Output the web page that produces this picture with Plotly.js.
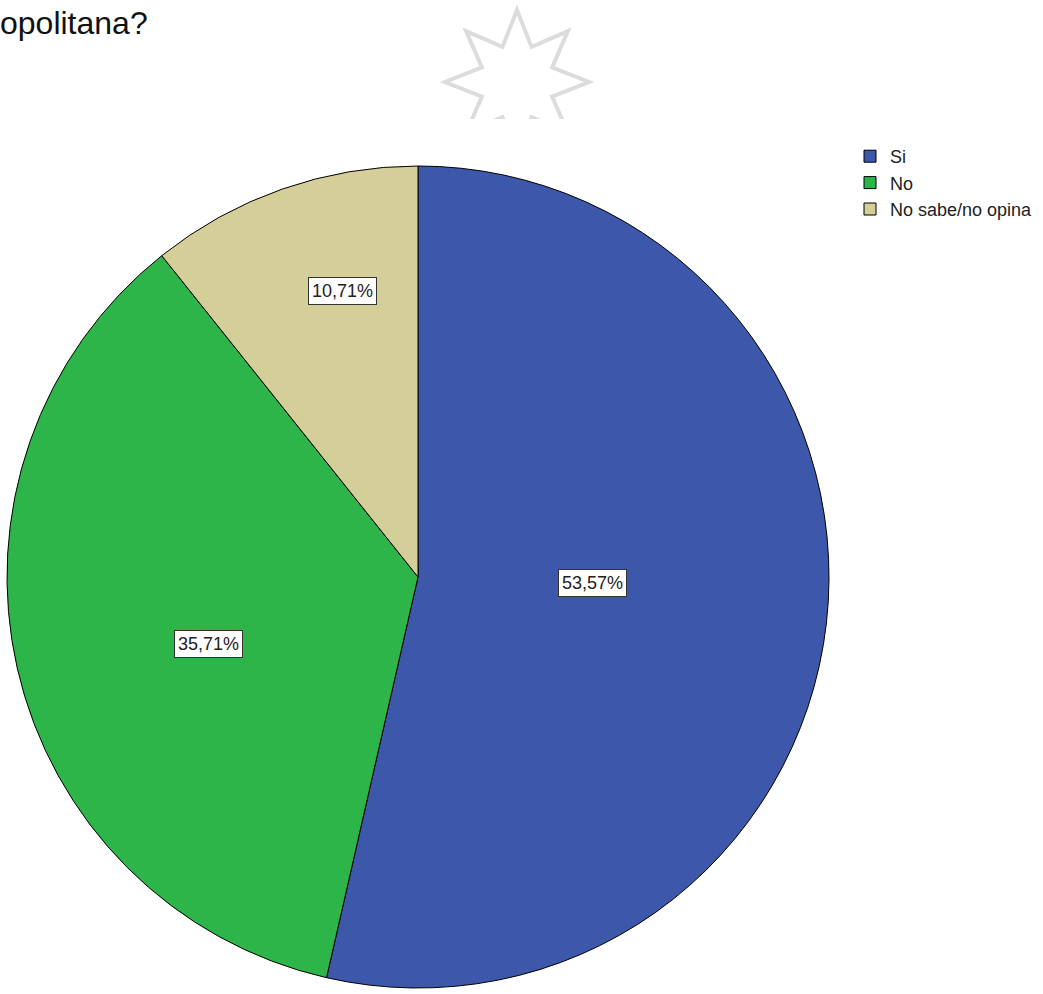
<!DOCTYPE html>
<html>
<head>
<meta charset="utf-8">
<script src="https://cdn.plot.ly/plotly-3.0.1.min.js"></script>
<style>html,body{margin:0;padding:0;background:#fff;}#chart{width:1043px;height:994px;}</style>
</head>
<body>
<div id="chart"></div>
<script>
const categories = ["Si", "No", "No sabe/no opina"];
const counts = [15, 10, 3];
const colors = ["#3D58AB", "#2EB54A", "#D4CF98"];
const titleText = "opolitana?";

const W = 1043, H = 994;
const px = x => x / W;
const py = y => 1 - y / H;

// pie geometry (pixels)
const cx = 418, cy = 577, R = 411;

// label box centers (pixels), one per slice
const labelPos = [[592, 583], [208, 644], [342, 291]];

const total = counts.reduce((a, b) => a + b, 0);
const pctText = counts.map(v => (v / total * 100).toFixed(2).replace('.', ',') + '%');

const font = "Arial, 'Liberation Sans', sans-serif";

// decorative star (watermark)
const sc = [517, 82], Ro = 72, Ri = 38;
let star = '';
for (let i = 0; i < 16; i++) {
  const r = i % 2 === 0 ? Ro : Ri;
  const a = i * Math.PI / 8;
  const x = sc[0] + r * Math.sin(a), y = sc[1] - r * Math.cos(a);
  star += (i === 0 ? 'M' : 'L') + px(x).toFixed(5) + ',' + py(y).toFixed(5);
}
star += 'Z';

const trace = {
  type: 'pie',
  labels: categories,
  values: counts,
  sort: false,
  direction: 'clockwise',
  rotation: 0,
  textinfo: 'none',
  hoverinfo: 'label+percent',
  marker: { colors: colors, line: { color: '#000', width: 1 } },
  domain: { x: [px(cx - R), px(cx + R)], y: [py(cy + R), py(cy - R)] }
};

const annotations = pctText.map((t, i) => ({
  text: t, xref: 'paper', yref: 'paper',
  x: px(labelPos[i][0]), y: py(labelPos[i][1]),
  xanchor: 'center', yanchor: 'middle', showarrow: false,
  font: { family: font, size: 18, color: '#222' },
  bgcolor: '#fff', bordercolor: '#333', borderwidth: 1, borderpad: 3
}));
annotations.push({
  text: titleText, xref: 'paper', yref: 'paper', x: 0, y: py(23),
  xanchor: 'left', yanchor: 'middle', xshift: -2, showarrow: false,
  font: { family: font, size: 32, color: '#111' }
});

const layout = {
  width: W, height: H,
  margin: { l: 0, r: 0, t: 0, b: 0 },
  paper_bgcolor: '#fff',
  showlegend: true,
  legend: {
    x: px(850), y: py(138), xanchor: 'left', yanchor: 'top',
    font: { family: font, size: 18, color: '#222' },
    bgcolor: 'rgba(0,0,0,0)', tracegroupgap: 0, itemwidth: 30
  },
  shapes: [
    { type: 'path', xref: 'paper', yref: 'paper', path: star,
      line: { color: '#DCDCDC', width: 4 }, fillcolor: 'rgba(0,0,0,0)' },
    { type: 'rect', xref: 'paper', yref: 'paper',
      x0: px(420), x1: px(620), y0: py(160), y1: py(119),
      line: { width: 0 }, fillcolor: '#fff' }
  ],
  annotations: annotations
};

Plotly.newPlot('chart', [trace], layout, { displayModeBar: false, staticPlot: true });
</script>
</body>
</html>
